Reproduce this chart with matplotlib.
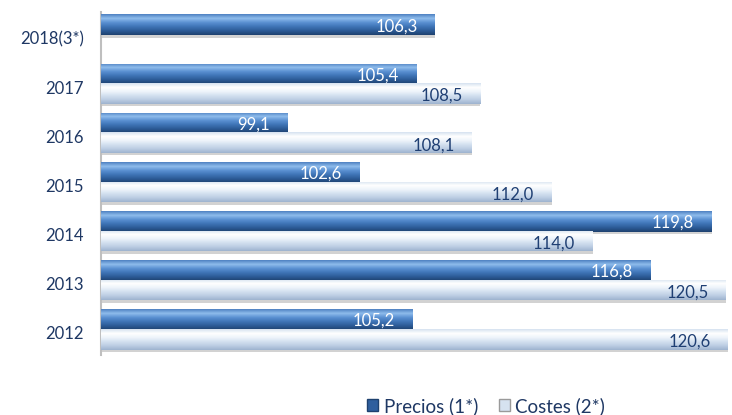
import matplotlib.pyplot as plt
import numpy as np
from matplotlib.colors import LinearSegmentedColormap
from matplotlib.patches import Patch

# data
years = ['2012', '2013', '2014', '2015', '2016', '2017', '2018(3*)']
precios = [105.2, 116.8, 119.8, 102.6, 99.1, 105.4, 106.3]
costes = [120.6, 120.5, 114.0, 112.0, 108.1, 108.5, None]

plt.rcParams['font.family'] = ['Lato', 'DejaVu Sans']

# gradients, index 0 = bottom of bar, last = top
cm_precios = LinearSegmentedColormap.from_list(
    'precios', ['#1e416f', '#2c5b96', '#3f74b6', '#5a90d2', '#8fbcec', '#4f82c2'])
cm_costes = LinearSegmentedColormap.from_list(
    'costes', ['#9eb3cf', '#bccde3', '#d3e0ef', '#eef4fb', '#ffffff', '#d6e2f0'])

fig = plt.figure(figsize=(7.32, 4.15), dpi=100)
ax = fig.add_axes([101 / 732, 1 - 355 / 415, 631 / 732, 343 / 415])

xmin = 90
h = 0.42
off = 0.2
grad = np.linspace(0, 1, 64).reshape(-1, 1)


def gradient_bar(y, val, cmap):
    # shadow
    ax.barh(y - 0.05, val - xmin, left=xmin, height=h, color='#7f7f7f',
            alpha=0.35, zorder=1)
    bar = ax.barh(y, val - xmin, left=xmin, height=h, color='none', zorder=2)[0]
    im = ax.imshow(grad, cmap=cmap, aspect='auto', origin='lower',
                   extent=[xmin, val, y - h / 2, y + h / 2], zorder=3)
    im.set_clip_path(bar)
    return bar


for i, (p, c) in enumerate(zip(precios, costes)):
    gradient_bar(i + off, p, cm_precios)
    ax.text(p - 0.85, i + off - 0.03, f'{p:.1f}'.replace('.', ','),
            ha='right', va='center', color='white', fontsize=12, zorder=5)
    if c is not None:
        gradient_bar(i - off, c, cm_costes)
        ax.text(c - 0.85, i - off - 0.05, f'{c:.1f}'.replace('.', ','),
                ha='right', va='center', color='#1f3f73', fontsize=12, zorder=5)

ax.set_xlim(xmin, 120.8)
ax.set_ylim(-0.52, 6.46)
ax.set_yticks(np.arange(len(years)) - 0.07)
ax.set_yticklabels(years, color='#1f3864', fontsize=12)
ax.tick_params(axis='y', length=0, pad=12.5)
ax.set_xticks([])
for s in ['top', 'right', 'bottom']:
    ax.spines[s].set_visible(False)
ax.spines['left'].set_color('#bfbfbf')
ax.spines['left'].set_linewidth(1.5)

handles = [Patch(facecolor='#2f5f9e', edgecolor='#1e416f'),
           Patch(facecolor='#d6e2f0', edgecolor='#9a9a9a')]
fig.legend(handles, ['Precios (1*)', 'Costes (2*)'], loc='center',
           bbox_to_anchor=(486 / 732, 1 - 406 / 415), ncol=2, frameon=False,
           fontsize=13.5, handlelength=0.6, handleheight=0.6,
           handletextpad=0.3, columnspacing=1.1, labelcolor='#1f3864')

fig.savefig('out.png', dpi=100)
